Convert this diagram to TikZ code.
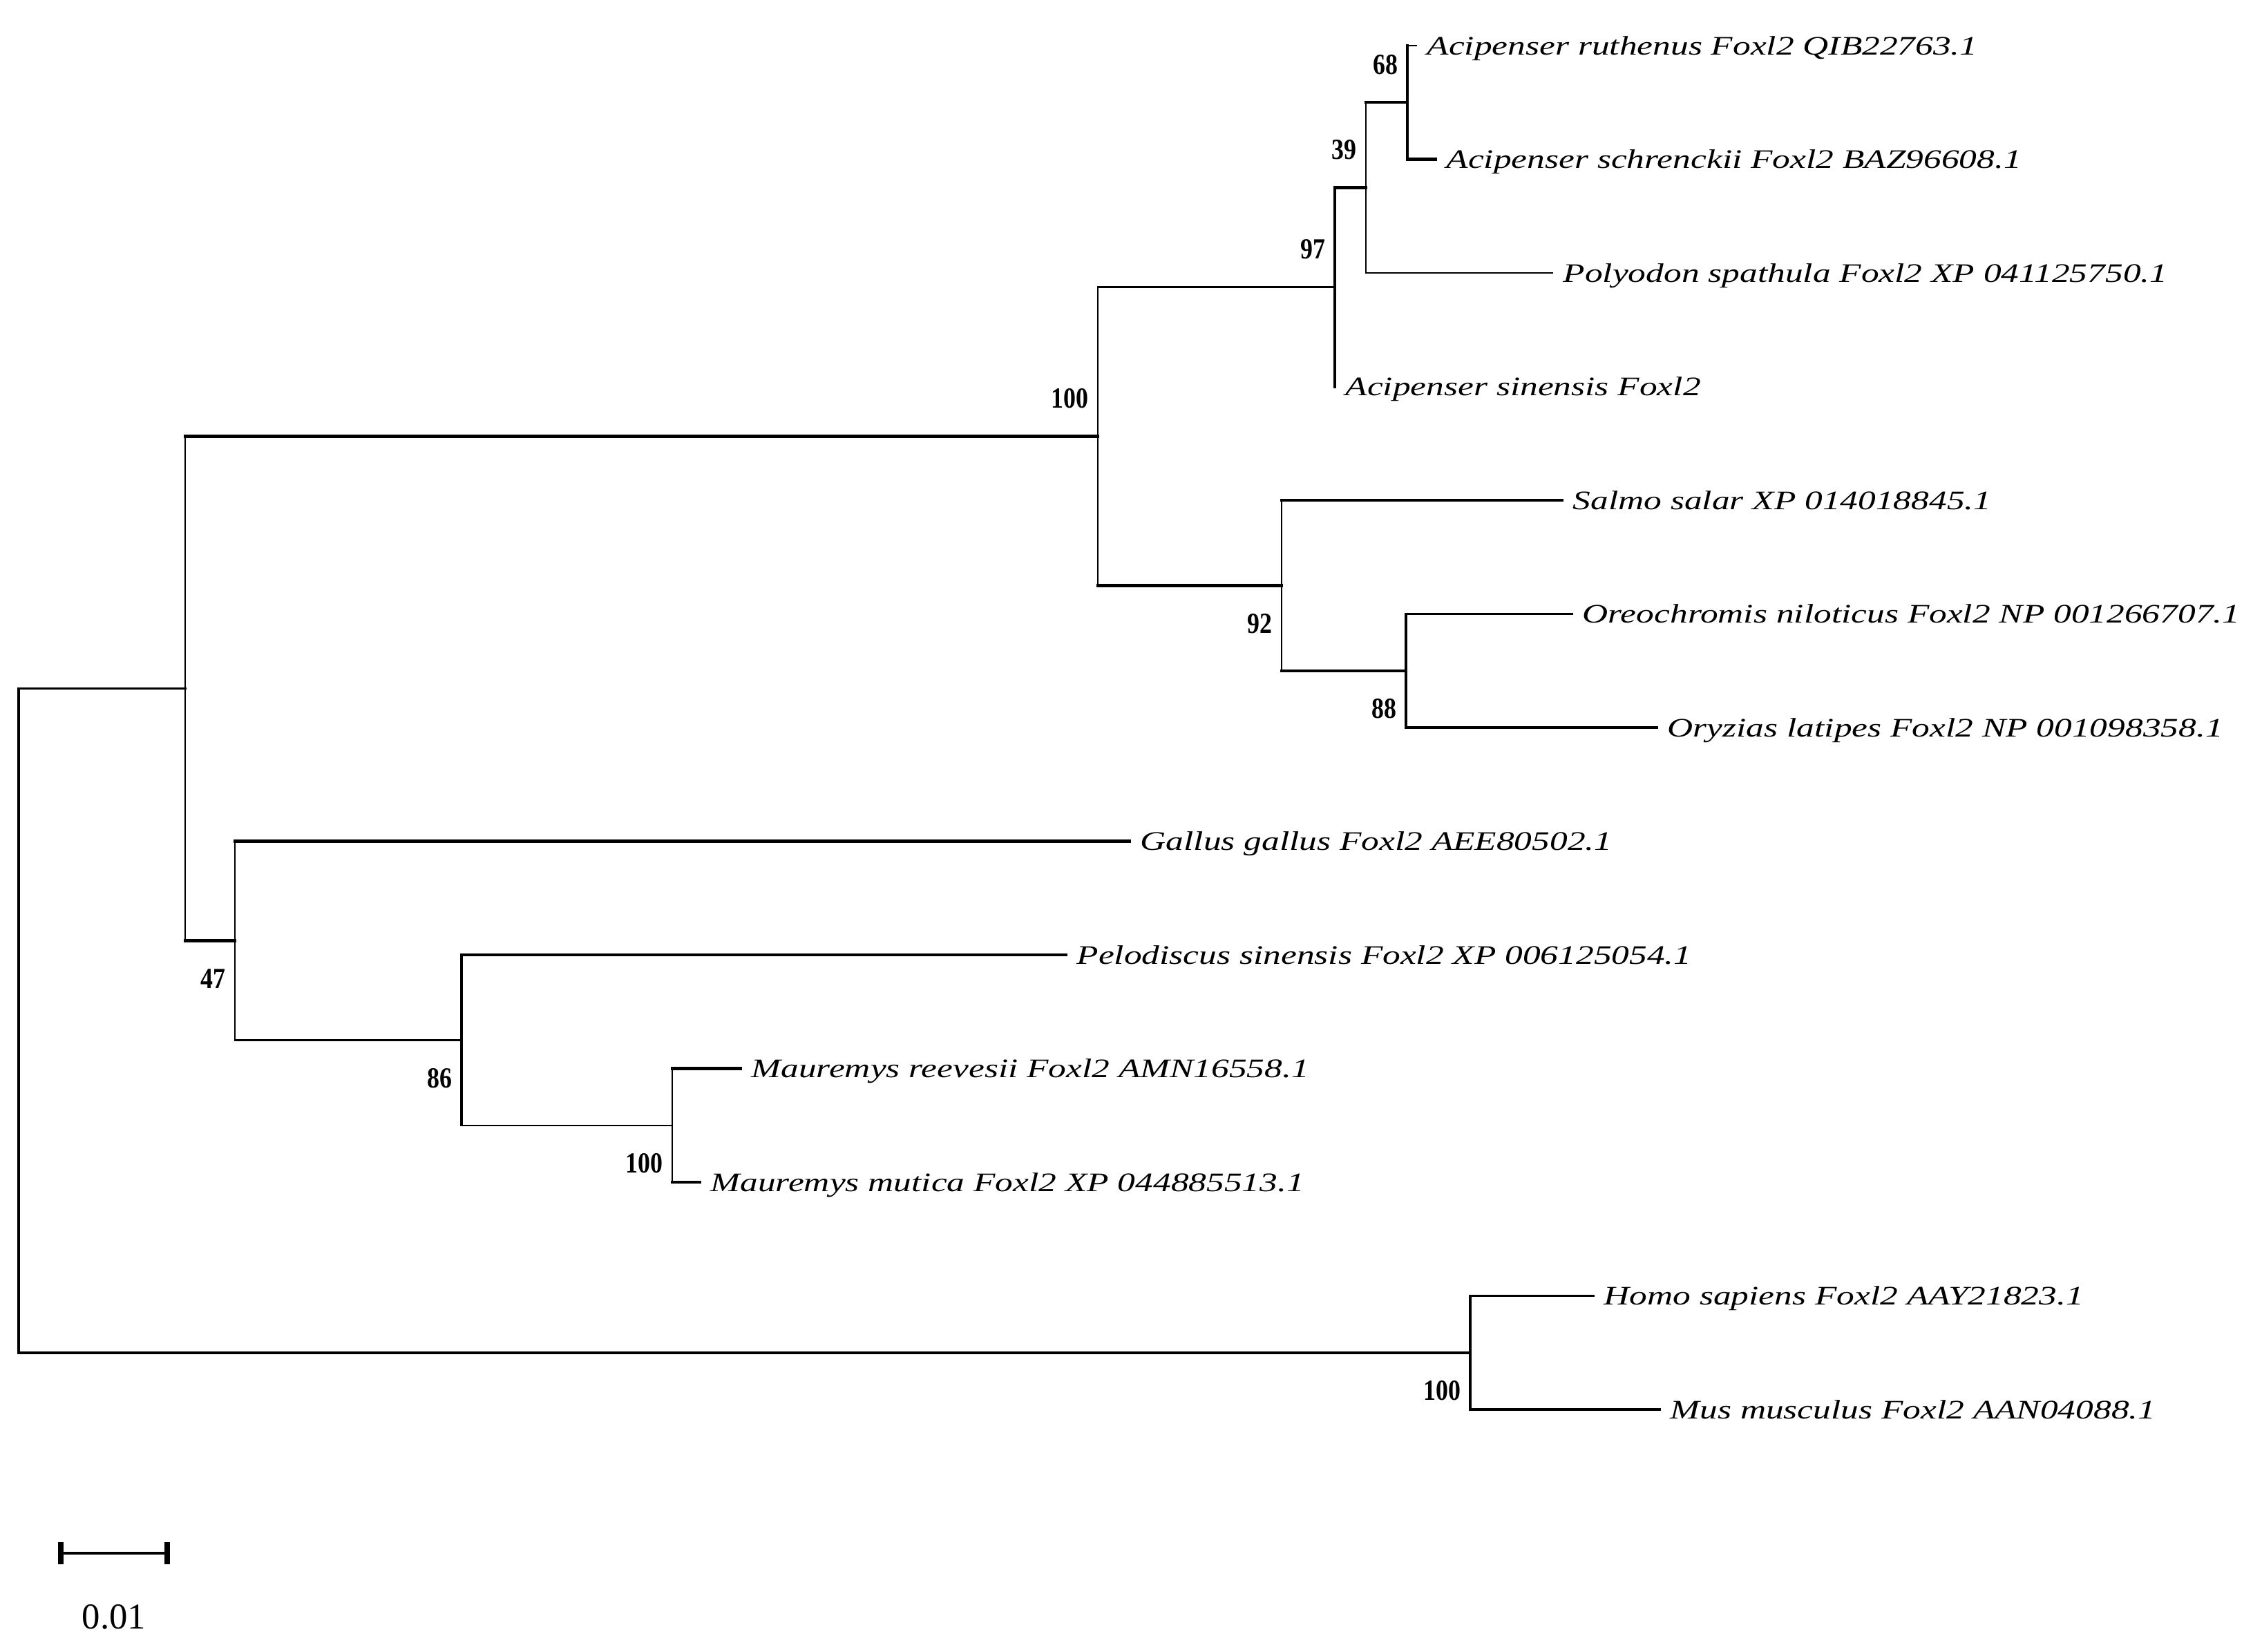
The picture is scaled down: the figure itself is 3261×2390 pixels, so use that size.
\documentclass[tikz,border=0pt]{standalone}
\usepackage{fontspec}
\setmainfont{Liberation Serif}
\newfontfamily\leaffont[FakeStretch=1.33]{Liberation Serif}
\newfontfamily\bsfont[FakeStretch=0.85]{Liberation Serif}
\begin{document}
\begin{tikzpicture}[x=0.1mm,y=-0.1mm,
  thin branch/.style={line width=0.65pt,line cap=rect},
  mid branch/.style={line width=0.9pt,line cap=rect},
  thick branch/.style={line width=1.25pt,line cap=rect},
  leaf/.style={anchor=base west,xshift=1.5mm,yshift=-1.3mm,inner sep=0pt,
    font=\leaffont\itshape\fontsize{11}{13}\selectfont},
  bsup/.style={anchor=east,xshift=-1.3mm,yshift=5.5mm,inner sep=0pt,
    font=\bsfont\bfseries\fontsize{12}{14}\selectfont},
  bsdown/.style={anchor=east,xshift=-1.3mm,yshift=-5.5mm,inner sep=0pt,
    font=\bsfont\bfseries\fontsize{12}{14}\selectfont}]
\useasboundingbox (0,0) rectangle (3261,2390);
% tips (branch ends)
\coordinate (t0) at (2050,66);
\coordinate (t1) at (2078,230.5);
\coordinate (t2) at (2247,395);
\coordinate (t3) at (1932,559.5);
\coordinate (t4) at (2261,724);
\coordinate (t5) at (2275,888.5);
\coordinate (t6) at (2398,1053);
\coordinate (t7) at (1635,1217.5);
\coordinate (t8) at (1543,1382);
\coordinate (t9) at (1072,1546.5);
\coordinate (t10) at (1013,1711);
\coordinate (t11) at (2306,1875.5);
\coordinate (t12) at (2402,2040);
% internal nodes
\coordinate (E) at (2037,148.25);
\coordinate (D) at (1977,271.6);
\coordinate (C) at (1932,415.6);
\coordinate (G) at (2035,970.75);
\coordinate (F) at (1855,847.4);
\coordinate (B) at (1589,631.5);
\coordinate (J) at (973,1628.75);
\coordinate (I) at (668,1505.4);
\coordinate (H) at (340,1361.4);
\coordinate (A) at (268,996.4);
\coordinate (K) at (2128,1957.75);
\coordinate (R) at (27,1477);
% root
\draw[mid branch] (R |- A) -- (R |- K);
\draw[mid branch] (R |- A) -- (A);
\draw[thick branch] (R |- K) -- (K);
% A
\draw[thin branch] (A |- B) -- (A |- H);
\draw[thick branch] (A |- B) -- (B);
\draw[thick branch] (A |- H) -- (H);
% B
\draw[thin branch] (B |- C) -- (B |- F);
\draw[thin branch] (B |- C) -- (C);
\draw[thick branch] (B |- F) -- (F);
% C
\draw[thick branch] (C |- D) -- (C |- t3);
\draw[thick branch] (C |- D) -- (D);
% D
\draw[thin branch] (D |- E) -- (D |- t2);
\draw[thick branch] (D |- E) -- (E);
\draw[thin branch] (D |- t2) -- (t2);
% E
\draw[thick branch] (E |- t0) -- (E |- t1);
\draw[thin branch] (E |- t0) -- (t0);
\draw[thick branch] (E |- t1) -- (t1);
% F
\draw[thin branch] (F |- t4) -- (F |- G);
\draw[thick branch] (F |- t4) -- (t4);
\draw[thick branch] (F |- G) -- (G);
% G
\draw[mid branch] (G |- t5) -- (G |- t6);
\draw[mid branch] (G |- t5) -- (t5);
\draw[thick branch] (G |- t6) -- (t6);
% H
\draw[thin branch] (H |- t7) -- (H |- I);
\draw[thick branch] (H |- t7) -- (t7);
\draw[thin branch] (H |- I) -- (I);
% I
\draw[mid branch] (I |- t8) -- (I |- J);
\draw[mid branch] (I |- t8) -- (t8);
\draw[thin branch] (I |- J) -- (J);
% J
\draw[thin branch] (J |- t9) -- (J |- t10);
\draw[thick branch] (J |- t9) -- (t9);
\draw[thick branch] (J |- t10) -- (t10);
% K
\draw[mid branch] (K |- t11) -- (K |- t12);
\draw[mid branch] (K |- t11) -- (t11);
\draw[thick branch] (K |- t12) -- (t12);
% leaf labels
\node[leaf] (l0) at (t0) {Acipenser ruthenus Foxl2 QIB22763.1};
\node[leaf] (l1) at (t1) {Acipenser schrenckii Foxl2 BAZ96608.1};
\node[leaf] (l2) at (t2) {Polyodon spathula Foxl2 XP 041125750.1};
\node[leaf] (l3) at (t3) {Acipenser sinensis Foxl2};
\node[leaf] (l4) at (t4) {Salmo salar XP 014018845.1};
\node[leaf] (l5) at (t5) {Oreochromis niloticus Foxl2 NP 001266707.1};
\node[leaf] (l6) at (t6) {Oryzias latipes Foxl2 NP 001098358.1};
\node[leaf] (l7) at (t7) {Gallus gallus Foxl2 AEE80502.1};
\node[leaf] (l8) at (t8) {Pelodiscus sinensis Foxl2 XP 006125054.1};
\node[leaf] (l9) at (t9) {Mauremys reevesii Foxl2 AMN16558.1};
\node[leaf] (l10) at (t10) {Mauremys mutica Foxl2 XP 044885513.1};
\node[leaf] (l11) at (t11) {Homo sapiens Foxl2 AAY21823.1};
\node[leaf] (l12) at (t12) {Mus musculus Foxl2 AAN04088.1};
% bootstrap values
\node[bsup] (bE) at (E) {68};
\node[bsup] (bD) at (D) {39};
\node[bsup] (bC) at (C) {97};
\node[bsup] (bB) at (B) {100};
\node[bsdown] (bF) at (F) {92};
\node[bsdown] (bG) at (G) {88};
\node[bsdown] (bH) at (H) {47};
\node[bsdown] (bI) at (I) {86};
\node[bsdown] (bJ) at (J) {100};
\node[bsdown] (bK) at (K) {100};
% scale bar
\coordinate (s1) at (88,2248);
\coordinate (s2) at (242,2248);
\draw[line width=1.1pt] (s1) -- (s2);
\draw[line width=2pt] ([yshift=1.6mm]s1) -- ([yshift=-1.6mm]s1);
\draw[line width=2pt] ([yshift=1.6mm]s2) -- ([yshift=-1.6mm]s2);
\node[font=\fontsize{15}{17}\selectfont,inner sep=0pt] (sl) at (165,2340) {0.01};
\end{tikzpicture}
\end{document}
